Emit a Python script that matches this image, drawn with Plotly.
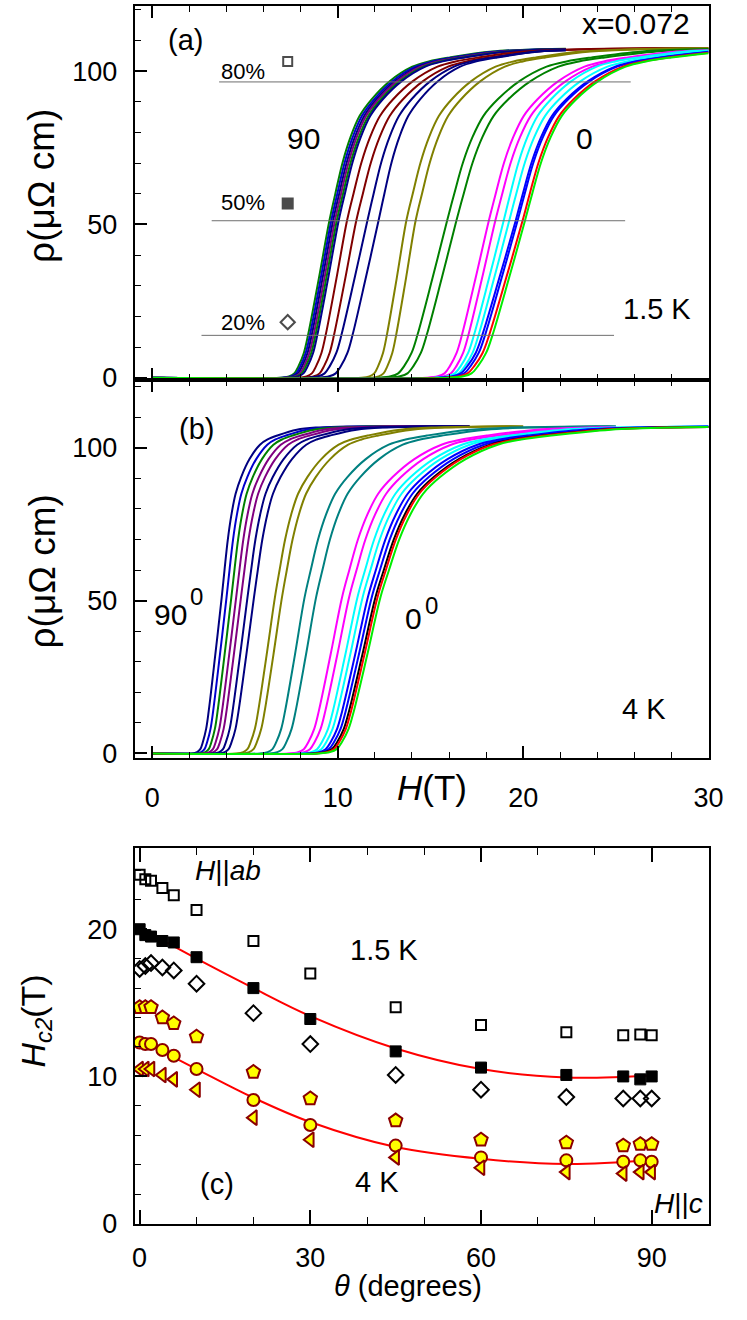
import numpy as np
import plotly.graph_objects as go

FONT = "Liberation Sans, Arial, Helvetica, sans-serif"
W, HGT = 747, 1320


def px(xp):
    return xp / W


def py(yp):
    return min(1.0, 1 - yp / HGT)


# ---------------- shared transition shape ----------------
shape_lo_u = [-2.3, -1.9, -1.65, -1.45, -1.2, -1.0, -0.5, 0.0]
shape_lo_f = [0.0, 0.004, 0.013, 0.035, 0.075, 0.13, 0.30, 0.477]
shape_hi_u = [0.1, 0.22, 0.35, 0.5, 0.7, 1.0, 1.375, 1.65, 2.0, 2.7, 3.5, 4.5]
shape_hi_f = [0.56, 0.654, 0.73, 0.794, 0.845, 0.90, 0.944, 0.96, 0.972, 0.99, 0.997, 1.0]

# ---------------- panel (a): 1.5 K, rho(H) curves ----------------
a_colors = ["#008000", "#0000CD", "#000080", "#800080", "#008000", "#00008B",
            "#800000", "#800000", "#000080", "#000080", "#808000", "#808000",
            "#008000", "#008000", "#FF00FF", "#FF00FF", "#00FFFF", "#00FFFF",
            "#0000FF", "#0000FF", "#FF0000", "#00EE00"]
a_h50 = [9.55, 9.65, 9.75, 9.85, 9.95, 10.05, 10.5, 11.0, 11.6, 12.2, 13.7, 14.2,
         15.9, 16.4, 18.15, 18.5, 18.95, 19.25, 19.6, 19.7, 19.97, 20.1]
a_wlo = [1.15, 1.15, 1.15, 1.15, 1.15, 1.15, 1.15, 1.2, 1.4, 1.4, 1.05, 1.05,
         1.6, 1.6, 1.45, 1.45, 1.6, 1.65, 1.8, 1.75, 1.8, 1.75]
a_whi = [3.25, 3.3, 3.35, 3.35, 3.4, 3.4, 3.55, 3.6, 3.4, 3.2, 3.5, 3.5,
         3.9, 4.0, 3.75, 3.8, 3.65, 3.85, 3.9, 3.9, 3.93, 3.95]
a_hend = [22.3, 22.3, 22.3, 22.3, 22.3, 22.3, 30, 30, 22.3, 22.3, 30, 30,
          30, 30, 30, 30, 30, 30, 30, 30, 30, 30]
a_rhon = 107.5

a_guide_rho = [96.5, 51.2, 13.8]
a_guide_x0 = [3.6, 3.2, 2.65]
a_guide_x1 = [25.8, 25.5, 24.9]
a_guide_labels = ["80%", "50%", "20%"]
a_guide_label_rho = [100.0, 57.3, 18.1]
a_guide_marker_rho = [103.2, 56.8, 18.1]

# ---------------- panel (b): 4 K, rho(H) curves ----------------
b_colors = ["#000080", "#0000CD", "#008000", "#800080", "#800080", "#000080",
            "#000080", "#808000", "#808000", "#008080", "#008080", "#FF00FF",
            "#FF00FF", "#00FFFF", "#00FFFF", "#0000FF", "#0000FF", "#000000",
            "#FF0000", "#00EE00"]
b_h50 = [3.74, 4.0, 4.26, 4.52, 4.78, 5.13, 5.48, 6.61, 6.99, 8.21, 8.83, 10.23,
         10.61, 11.06, 11.34, 11.62, 11.83, 12.03, 12.14, 12.3]
b_wlo = [0.7, 0.72, 0.74, 0.76, 0.78, 0.8, 0.83, 0.9, 0.93, 1.05, 1.1, 1.25,
         1.28, 1.32, 1.35, 1.38, 1.4, 1.42, 1.42, 1.43]
b_whi = [1.5, 1.6, 1.65, 1.75, 1.85, 1.95, 2.05, 2.5, 2.6, 3.3, 3.4, 3.9,
         4.0, 4.1, 4.2, 4.3, 4.4, 4.5, 4.5, 4.6]
b_hend = [17.1, 17.1, 17.1, 17.1, 17.1, 17.1, 17.1, 20.0, 20.0, 25, 25, 25,
          25, 30, 30, 30, 30, 30, 30, 30]
b_rhon = 107.0

# ---------------- panel (c): Hc2(theta) ----------------
theta = [0, 1, 2, 4, 6, 10, 20, 30, 45, 60, 75, 85, 88, 90]
hc2_15K_80 = [23.7, 23.4, 23.3, 22.8, 22.3, 21.3, 19.2, 17.0, 14.7, 13.5, 13.0, 12.8, 12.85, 12.8]
hc2_15K_50 = [20.0, 19.6, 19.5, 19.2, 19.1, 18.1, 16.0, 13.9, 11.7, 10.6, 10.1, 10.0, 9.8, 10.0]
hc2_15K_20 = [17.3, 17.5, 17.7, 17.4, 17.2, 16.3, 14.3, 12.2, 10.1, 9.1, 8.6, 8.5, 8.5, 8.5]
hc2_4K_80 = [14.7, 14.7, 14.7, 14.0, 13.6, 12.7, 10.3, 8.5, 7.0, 5.7, 5.5, 5.3, 5.4, 5.4]
hc2_4K_50 = [12.3, 12.2, 12.2, 11.8, 11.4, 10.5, 8.4, 6.7, 5.3, 4.5, 4.3, 4.2, 4.3, 4.2]
hc2_4K_20 = [10.5, 10.5, 10.5, 10.1, 9.8, 9.1, 7.2, 5.7, 4.5, 3.8, 3.5, 3.4, 3.5, 3.5]

fit_theta = [0, 10, 20, 30, 45, 60, 75, 90]
fit_15K = [20.1, 18.0, 16.0, 14.1, 11.9, 10.5, 9.93, 10.07]
fit_4K = [12.5, 10.5, 8.55, 6.9, 5.2, 4.4, 4.05, 4.3]


def build_curve(h50, wlo, whi, hend, rhon):
    hs = [0.0] + [h50 + wlo * u for u in shape_lo_u] + [h50 + whi * u for u in shape_hi_u]
    fs = [0.0] + shape_lo_f + shape_hi_f
    kh, kf = [], []
    for h, f in zip(hs, fs):
        if h < hend:
            kh.append(h)
            kf.append(f)
    if hend > hs[-1]:
        kh.append(hend)
        kf.append(1.0)
    else:
        kh.append(hend)
        kf.append(float(np.interp(hend, hs, fs)))
    return kh, [f * rhon for f in kf]


fig = go.Figure()

# panel (a) curves
for c, h50, wl, wh, he in zip(a_colors, a_h50, a_wlo, a_whi, a_hend):
    xs, ys = build_curve(h50, wl, wh, he, a_rhon)
    fig.add_trace(go.Scatter(x=xs, y=ys, mode="lines", xaxis="x", yaxis="y",
                             line=dict(color=c, width=2, shape="spline", smoothing=1.0),
                             showlegend=False, hoverinfo="skip"))
# guide lines
for lv, x0, x1 in zip(a_guide_rho, a_guide_x0, a_guide_x1):
    fig.add_trace(go.Scatter(x=[x0, x1], y=[lv, lv], mode="lines", xaxis="x", yaxis="y",
                             line=dict(color="#6e6e6e", width=1), showlegend=False))
# guide markers
fig.add_trace(go.Scatter(x=[7.3, 7.3, 7.3], y=a_guide_marker_rho, mode="markers",
                         xaxis="x", yaxis="y",
                         marker=dict(symbol=["square-open", "square", "diamond-open"],
                                     size=[9, 10, 11], color="black",
                                     line=dict(color="black", width=2)),
                         showlegend=False))

# panel (b) curves
for c, h50, wl, wh, he in zip(b_colors, b_h50, b_wlo, b_whi, b_hend):
    xs, ys = build_curve(h50, wl, wh, he, b_rhon)
    fig.add_trace(go.Scatter(x=xs, y=ys, mode="lines", xaxis="x2", yaxis="y2",
                             line=dict(color=c, width=2, shape="spline", smoothing=1.0),
                             showlegend=False, hoverinfo="skip"))

# panel (c)
fig.add_trace(go.Scatter(x=fit_theta, y=fit_15K, mode="lines", xaxis="x3", yaxis="y3",
                         line=dict(color="#FF0000", width=2, shape="spline"), showlegend=False))
fig.add_trace(go.Scatter(x=fit_theta, y=fit_4K, mode="lines", xaxis="x3", yaxis="y3",
                         line=dict(color="#FF0000", width=2, shape="spline"), showlegend=False))

MAROON = "#8B0000"
series_c = [
    (hc2_15K_80, "square-open", 10, "black", "black", 2),
    (hc2_15K_50, "square", 11, "black", "black", 1),
    (hc2_15K_20, "diamond-open", 12, "black", "black", 2),
    (hc2_4K_80, "pentagon", 14, "#FFFF00", MAROON, 2),
    (hc2_4K_50, "circle", 12, "#FFFF00", MAROON, 2),
    (hc2_4K_20, "triangle-left", 13, "#FFFF00", MAROON, 2),
]
for ys, sym, sz, fc, lc, lw in series_c:
    fig.add_trace(go.Scatter(x=theta, y=ys, mode="markers", xaxis="x3", yaxis="y3",
                             marker=dict(symbol=sym, size=sz, color=fc,
                                         line=dict(color=lc, width=lw)),
                             showlegend=False))

XD = [px(135), px(723)]
TICKF = dict(family=FONT, size=27, color="black")


def axis_common():
    return dict(showline=True, linewidth=2, linecolor="black", ticks="inside",
                tickcolor="black", tickwidth=1.6, showgrid=False, zeroline=False,
                tickfont=TICKF)


def minor(dt, ln):
    return dict(dtick=dt, ticklen=ln, tickwidth=1.4, tickcolor="black", ticks="inside")


xa = axis_common()
xa.update(domain=XD, range=[-0.95, 30], anchor="y", tick0=0, dtick=10, ticklen=12,
          showticklabels=False, mirror="ticks", minor=minor(2, 6))
ya = axis_common()
ya.update(domain=[py(384), py(6)], range=[-0.65, 121.3], anchor="x",
          tick0=0, dtick=50, ticklen=12, mirror=True, ticklabelstandoff=10,
          minor=minor(10, 6))
xb = axis_common()
xb.update(domain=XD, range=[-0.95, 30], anchor="y2", tick0=0, dtick=10, ticklen=12,
          mirror="ticks", ticklabelstandoff=14, minor=minor(2, 6))
yb = axis_common()
yb.update(domain=[py(767), py(384)], range=[-1.6, 122.3], anchor="x2",
          tick0=0, dtick=50, ticklen=12, mirror=True, ticklabelstandoff=10,
          minor=minor(10, 6))
xc = axis_common()
xc.update(domain=XD, range=[-0.86, 100], anchor="y3", tick0=0, dtick=30, ticklen=14,
          mirror="ticks", ticklabelstandoff=9, minor=minor(10, 7))
yc = axis_common()
yc.update(domain=[py(1238), py(858)], range=[-0.02, 25.5], anchor="x3",
          tick0=0, dtick=10, ticklen=12, mirror=True, ticklabelstandoff=10,
          minor=minor(2, 6))


def txt(x, y, t, size, xref, yref, **kw):
    d = dict(x=x, y=y, text=t, xref=xref, yref=yref, showarrow=False,
             font=dict(family=FONT, size=size, color="black"),
             xanchor="center", yanchor="middle")
    d.update(kw)
    return d


ann = []
# panel (a) texts
ann.append(txt(1.8, 110.3, "(a)", 29, "x", "y"))
ann.append(txt(26.1, 115.5, "x=0.072", 30, "x", "y"))
ann.append(txt(8.16, 78, "90", 30, "x", "y"))
ann.append(txt(23.3, 78, "0", 30, "x", "y"))
ann.append(txt(27.2, 22.3, "1.5 K", 29, "x", "y"))
for lab, r in zip(a_guide_labels, a_guide_label_rho):
    ann.append(txt(4.9, r, lab, 22, "x", "y"))
# panel (b) texts
ann.append(txt(2.4, 106, "(b)", 29, "x2", "y2"))
ann.append(txt(1.0, 45.6, "90", 30, "x2", "y2"))
ann.append(txt(2.4, 51.4, "0", 24, "x2", "y2"))
ann.append(txt(14.1, 44.0, "0", 30, "x2", "y2"))
ann.append(txt(15.05, 48.5, "0", 24, "x2", "y2"))
ann.append(txt(26.5, 14.6, "4 K", 29, "x2", "y2"))
# panel (c) texts
ann.append(txt(15.6, 24.0, "<i>H</i>||<i>ab</i>", 28, "x3", "y3"))
ann.append(txt(42.9, 18.6, "1.5 K", 29, "x3", "y3"))
ann.append(txt(13.6, 2.67, "(c)", 29, "x3", "y3"))
ann.append(txt(41.7, 2.8, "4 K", 29, "x3", "y3"))
ann.append(txt(94.8, 1.4, "<i>H</i>||<i>c</i>", 28, "x3", "y3"))
# axis titles
ann.append(txt(px(40), py(188), "ρ(μΩ cm)", 37, "paper", "paper", textangle=-90))
ann.append(txt(px(40), py(578), "ρ(μΩ cm)", 37, "paper", "paper", textangle=-90))
ann.append(txt(px(440), py(797), "<i>H</i>(T)", 35, "paper", "paper"))
ann.append(txt(px(33), py(1033), "<i>H</i><sub><i>c2</i></sub>(T)", 34, "paper", "paper",
               textangle=-90))
ann.append(txt(px(415), py(1301), "<i>θ</i> (degrees)", 29, "paper", "paper"))

fig.update_layout(
    width=W, height=HGT, margin=dict(l=0, r=0, t=0, b=0),
    paper_bgcolor="white", plot_bgcolor="white", showlegend=False,
    font=dict(family=FONT, color="black"),
    xaxis=xa, yaxis=ya, xaxis2=xb, yaxis2=yb, xaxis3=xc, yaxis3=yc,
    annotations=ann,
)

# remove the default page margin so the figure sits at the window's top-left corner
POST = ("document.body.style.margin='0';"
        "document.body.style.overflow='hidden';"
        "document.documentElement.style.overflow='hidden';")
fig.write_html("out.html", post_script=POST, config={"displayModeBar": False})
